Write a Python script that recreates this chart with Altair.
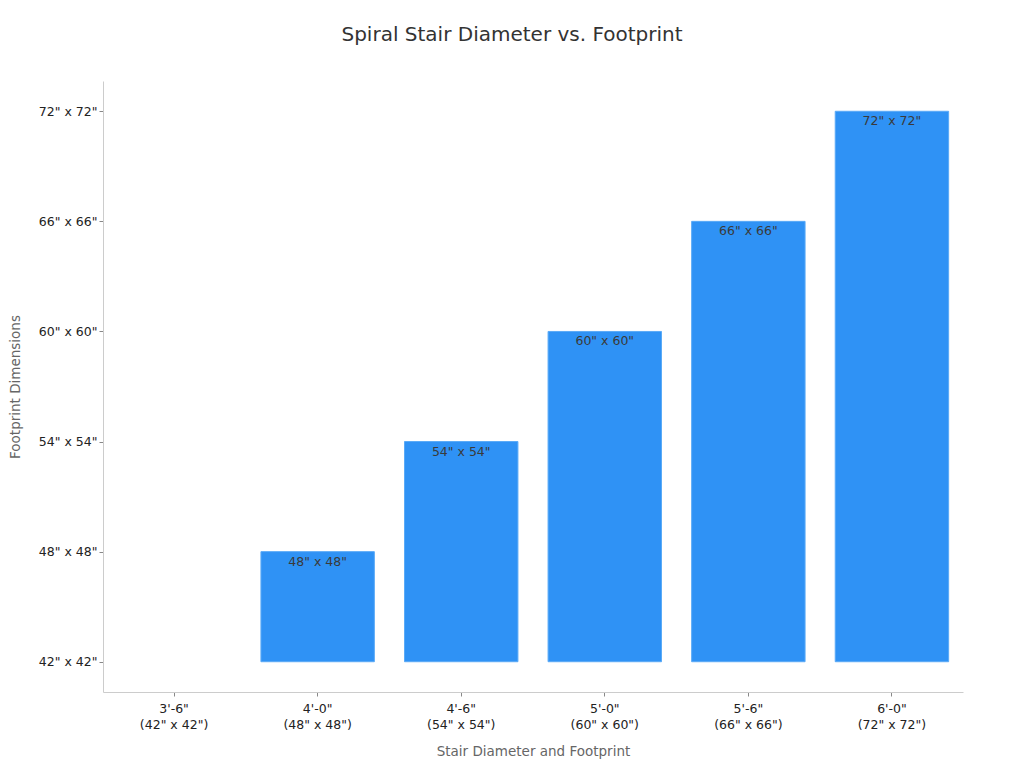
import altair as alt
import pandas as pd

diameters = ["3'-6\"", "4'-0\"", "4'-6\"", "5'-0\"", "5'-6\"", "6'-0\""]
footprint_labels = ['(42" x 42")', '(48" x 48")', '(54" x 54")', '(60" x 60")', '(66" x 66")', '(72" x 72")']
bar_labels = ['42" x 42"', '48" x 48"', '54" x 54"', '60" x 60"', '66" x 66"', '72" x 72"']
footprint_in = [42, 48, 54, 60, 66, 72]
y_ticks = [42, 48, 54, 60, 66, 72]

df = pd.DataFrame({
    "cat": [d + "|" + f for d, f in zip(diameters, footprint_labels)],
    "value": footprint_in,
    "base": [42] * len(footprint_in),
    "label": bar_labels,
})
order = list(df["cat"])

x_scale = alt.Scale(domain=order, paddingInner=0.21, paddingOuter=0.1)
x_enc = alt.X(
    "cat:N", sort=order, title="Stair Diameter and Footprint", scale=x_scale,
    axis=alt.Axis(labelAngle=0, labelExpr="split(datum.label, '|')", labelLineHeight=16,
                  labelFontSize=12.5, labelColor="#222", labelPadding=6, tickSize=4,
                  tickColor="#888", domainColor="#ccc", titleFontSize=13.5, titleColor="#666",
                  titleFontWeight="normal", titlePadding=14),
)
y_scale = alt.Scale(domain=[40.35, 73.65], nice=False, zero=False)

bars = alt.Chart(df).transform_filter("datum.value > datum.base").mark_bar(
    color="#2f92f5", stroke="#5aaaf7", strokeWidth=1
).encode(
    x=x_enc,
    y=alt.Y("value:Q", scale=y_scale, title="Footprint Dimensions",
            axis=alt.Axis(values=y_ticks, labelExpr="datum.value + '\" x ' + datum.value + '\"'",
                          grid=False, labelFontSize=12.5, labelColor="#222", tickSize=4,
                          tickColor="#888", domainColor="#ccc", titleFontSize=13.5,
                          titleColor="#666", titleFontWeight="normal", titlePadding=16)),
    y2="base:Q",
)

text = alt.Chart(df).transform_filter("datum.value > datum.base").mark_text(
    baseline="top", dy=4, fontSize=12.5, color="#3a3a3a", font="DejaVu Sans"
).encode(
    x=alt.X("cat:N", sort=order, scale=x_scale),
    y=alt.Y("value:Q", scale=y_scale),
    text="label:N",
)

chart = alt.layer(bars, text).properties(
    width=860, height=611,
    padding={"left": 0, "top": 17, "right": 5, "bottom": 5},
    title=alt.TitleParams("Spiral Stair Diameter vs. Footprint", fontSize=20, fontWeight="normal",
                          color="#333", offset=36, dx=-21, font="DejaVu Sans"),
    background="white",
).configure(font="DejaVu Sans").configure_view(stroke=None)

chart.save("out.html", embed_options={"renderer": "svg", "actions": False})
